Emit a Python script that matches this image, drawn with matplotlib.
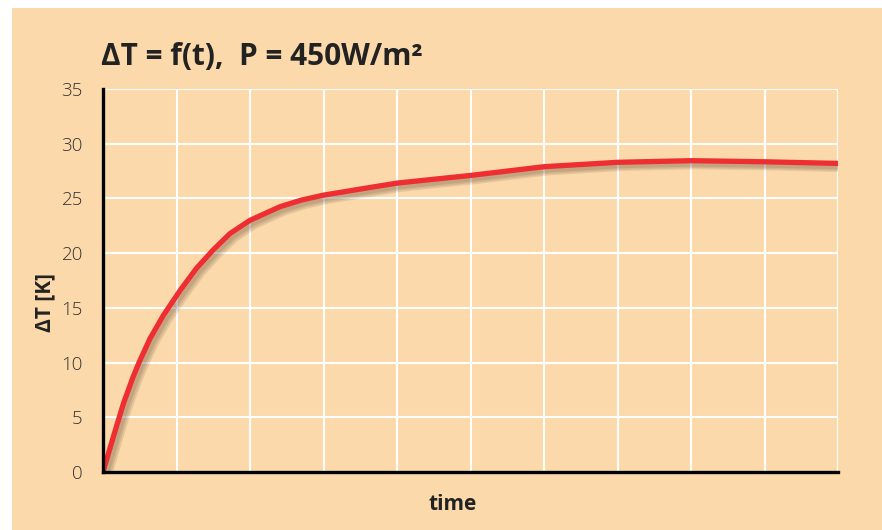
import matplotlib
matplotlib.use("Agg")
import matplotlib.pyplot as plt
import matplotlib.patheffects as pe
from matplotlib.patches import Rectangle

# values (time in grid units, dT in K)
t = [0, 0.14, 0.28, 0.41, 0.49, 0.64, 0.82, 1.05, 1.27, 1.5, 1.73, 2.0,
     2.41, 2.7, 3.0, 3.54, 4.0, 4.57, 5.0, 6.0, 7.0, 8.0, 9.0, 10.0]
dT = [0, 3.2, 6.3, 8.7, 10.0, 12.2, 14.3, 16.6, 18.6, 20.3, 21.8, 23.0,
      24.25, 24.85, 25.3, 25.9, 26.4, 26.8, 27.1, 27.9, 28.3, 28.45, 28.35, 28.2]
yticks = [0, 5, 10, 15, 20, 25, 30, 35]

peach = "#FCD9AA"
plt.rcParams['font.family'] = ['Open Sans', 'DejaVu Sans']

fig = plt.figure(figsize=(8.82, 5.30), dpi=100)
fig.patch.set_facecolor("white")
fig.patches.append(Rectangle((12 / 882, 0), 1, 1 - 8 / 530, transform=fig.transFigure,
                             facecolor=peach, edgecolor="none", zorder=-10))

ax = fig.add_axes([103 / 882, 1 - 472 / 530, 735 / 882, 383 / 530])
ax.set_facecolor(peach)

# soft drop shadow under the curve
shadow = [pe.SimpleLineShadow(offset=(o, -o), shadow_color="#4a3a2a", alpha=0.12,
                              linewidth=5.5) for o in (1.5, 2.5, 3.5)]
ax.plot(t, dT, color="#EE2E31", lw=3.8, solid_capstyle="butt", solid_joinstyle="round",
        zorder=3, path_effects=shadow + [pe.Normal()])

ax.set_xlim(0, 10)
ax.set_ylim(0, 35)
ax.set_xticks(range(0, 11))
ax.set_yticks(yticks)
ax.set_xticklabels([])
ax.grid(True, color="white", lw=1.5)
ax.set_axisbelow(True)
ax.tick_params(axis="both", length=0)
ax.tick_params(axis="y", pad=14.5, labelsize=13.5, labelcolor="#333333")
for lab in ax.get_yticklabels():
    lab.set_fontweight("light")
for s in ["top", "right"]:
    ax.spines[s].set_visible(False)
for s in ["left", "bottom"]:
    ax.spines[s].set_linewidth(2.4)
    ax.spines[s].set_color("black")
    ax.spines[s].set_zorder(4)

fig.text(101 / 882, 1 - 65 / 530, "ΔT = f(t),  P = 450W/m²", fontsize=21.4,
         fontweight="bold", color="#222222", ha="left", va="baseline")
fig.text(45 / 882, 1 - 303 / 530, "ΔT [K]", fontsize=15, fontweight="bold",
         color="#222222", rotation=90, ha="center", va="center")
fig.text(453 / 882, 1 - 505 / 530, "time", fontsize=15, fontweight="bold",
         color="#222222", ha="center", va="center")

fig.savefig("out.png", dpi=100, facecolor=fig.get_facecolor())
